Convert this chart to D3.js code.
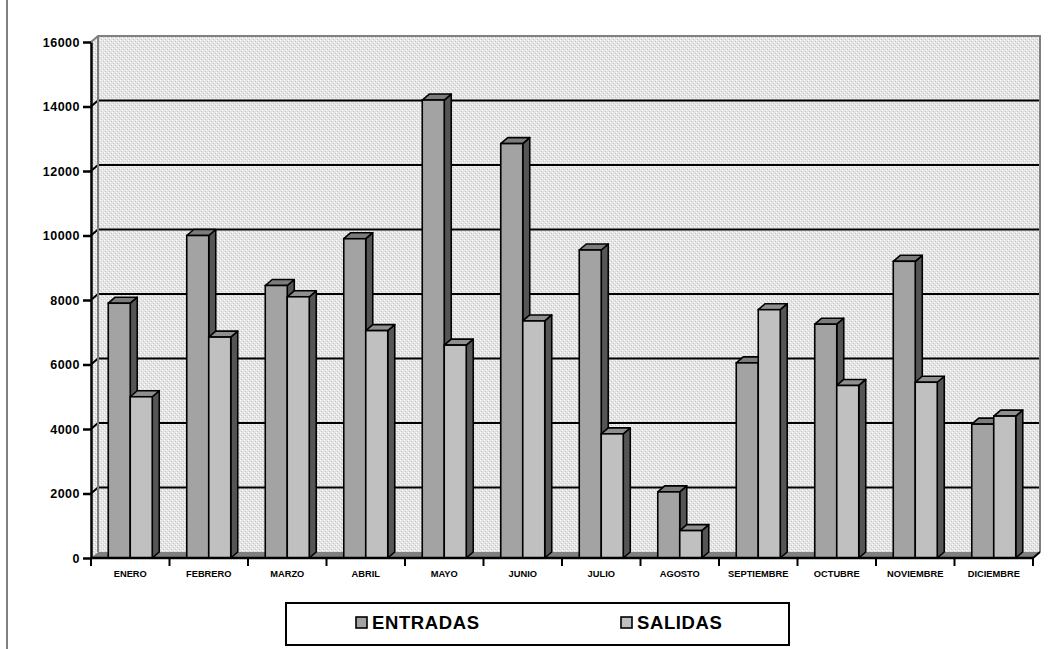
<!DOCTYPE html>
<html>
<head>
<meta charset="utf-8">
<script src="https://cdn.jsdelivr.net/npm/d3@7"></script>
<style>
  body { margin: 0; background: #fff; }
  svg { display: block; font-family: Arial, "Liberation Sans", sans-serif; }
</style>
</head>
<body>
<svg id="chart" width="1057" height="649"></svg>
<script>
const meses = ["ENERO", "FEBRERO", "MARZO", "ABRIL", "MAYO", "JUNIO", "JULIO",
  "AGOSTO", "SEPTIEMBRE", "OCTUBRE", "NOVIEMBRE", "DICIEMBRE"];
const entradas = [7900, 10000, 8450, 9900, 14200, 12850, 9550, 2050, 6050, 7250, 9200, 4150];
const salidas = [5000, 6850, 8100, 7050, 6600, 7350, 3850, 850, 7700, 5350, 5450, 4400];
const series = ["ENTRADAS", "SALIDAS"];
const yTicks = [0, 2000, 4000, 6000, 8000, 10000, 12000, 14000, 16000];

// colores: frente, techo, lado
const colores = {
  ENTRADAS: {front: "#a3a3a3", top: "#7c7c7c", side: "#555555"},
  SALIDAS: {front: "#c0c0c0", top: "#8f8f8f", side: "#555555"}
};

const pLeft = 91, pRight = 1033, pTop = 42, pBottom = 558;
const dx = 7, dy = -6; // profundidad 3D

const svg = d3.select("#chart");

// patrón de fondo de la pared
const defs = svg.append("defs");
const pat = defs.append("pattern").attr("id", "trama")
  .attr("width", 4).attr("height", 4).attr("patternUnits", "userSpaceOnUse");
pat.append("rect").attr("width", 4).attr("height", 4).attr("fill", "#e4e4e4");
pat.append("rect").attr("x", 0).attr("y", 0).attr("width", 1).attr("height", 1).attr("fill", "#ffffff");
pat.append("rect").attr("x", 2).attr("y", 2).attr("width", 1).attr("height", 1).attr("fill", "#ffffff");
pat.append("rect").attr("x", 1).attr("y", 3).attr("width", 1).attr("height", 1).attr("fill", "#c8c8c8");
pat.append("rect").attr("x", 3).attr("y", 1).attr("width", 1).attr("height", 1).attr("fill", "#c8c8c8");

const x = d3.scaleBand().domain(meses).range([pLeft, pRight]).paddingInner(0).paddingOuter(0);
const xs = d3.scaleBand().domain(series).range([17.25, x.bandwidth() - 17.25]);
const y = d3.scaleLinear().domain([0, 16000]).range([pBottom, pTop]);

// borde izquierdo del área
svg.append("line").attr("x1", 7).attr("x2", 7).attr("y1", 0).attr("y2", 649)
  .attr("stroke", "#808080").attr("stroke-width", 2);

// pared lateral
svg.append("path")
  .attr("d", `M${pLeft},${y(16000)}L${pLeft + dx},${y(16000) + dy}L${pLeft + dx},${pBottom + dy}L${pLeft},${pBottom}Z`)
  .attr("fill", "url(#trama)");

// pared del fondo
svg.append("rect")
  .attr("x", pLeft + dx).attr("y", y(16000) + dy)
  .attr("width", pRight - pLeft).attr("height", pBottom - pTop)
  .attr("fill", "url(#trama)");

// líneas de cuadrícula
const grid = svg.append("g");
yTicks.filter(v => v > 0 && v < 16000).forEach(v => {
  grid.append("path")
    .attr("d", `M${pLeft},${y(v)}L${pLeft + dx},${y(v) + dy}L${pRight + dx},${y(v) + dy}`)
    .attr("fill", "none").attr("stroke", "#000").attr("stroke-width", 2);
});

// borde gris de la pared
svg.append("path")
  .attr("d", `M${pLeft},${y(16000)}L${pLeft + dx},${y(16000) + dy}L${pRight + dx},${y(16000) + dy}L${pRight + dx},${pBottom + dy}`)
  .attr("fill", "none").attr("stroke", "#808080").attr("stroke-width", 2);
svg.append("line")
  .attr("x1", pLeft + dx).attr("x2", pLeft + dx).attr("y1", y(16000) + dy).attr("y2", pBottom + dy)
  .attr("stroke", "#808080").attr("stroke-width", 2);

// piso
svg.append("path")
  .attr("d", `M${pLeft},${pBottom}L${pLeft + dx},${pBottom + dy}L${pRight + dx},${pBottom + dy}L${pRight},${pBottom}Z`)
  .attr("fill", "#808080");
svg.append("path")
  .attr("d", `M${pRight},${pBottom}L${pRight + dx},${pBottom + dy}`)
  .attr("stroke", "#000").attr("stroke-width", 2);

// barras 3D
const datos = [];
meses.forEach((m, i) => {
  datos.push({mes: m, serie: "ENTRADAS", valor: entradas[i]});
  datos.push({mes: m, serie: "SALIDAS", valor: salidas[i]});
});

const barras = svg.append("g").selectAll("g").data(datos).join("g");
barras.each(function(d) {
  const g = d3.select(this);
  const x0 = x(d.mes) + xs(d.serie), w = xs.bandwidth();
  const y0 = y(d.valor), yb = y(0);
  const c = colores[d.serie];
  const sw = 1.6;
  g.append("path")
    .attr("d", `M${x0 + w},${y0}L${x0 + w + dx},${y0 + dy}L${x0 + w + dx},${yb + dy}L${x0 + w},${yb}Z`)
    .attr("fill", c.side).attr("stroke", "#000").attr("stroke-width", sw).attr("stroke-linejoin", "round");
  g.append("path")
    .attr("d", `M${x0},${y0}L${x0 + dx},${y0 + dy}L${x0 + w + dx},${y0 + dy}L${x0 + w},${y0}Z`)
    .attr("fill", c.top).attr("stroke", "#000").attr("stroke-width", sw).attr("stroke-linejoin", "round");
  g.append("rect")
    .attr("x", x0).attr("y", y0).attr("width", w).attr("height", yb - y0)
    .attr("fill", c.front).attr("stroke", "#000").attr("stroke-width", sw);
});

// eje Y
const yAxis = svg.append("g")
  .attr("transform", `translate(${pLeft},0)`)
  .call(d3.axisLeft(y).tickValues(yTicks).tickFormat(d3.format("d")).tickSize(8).tickPadding(3).tickSizeOuter(0));
yAxis.select(".domain").attr("stroke", "#000").attr("stroke-width", 2.5);
yAxis.selectAll(".tick line").attr("stroke", "#000").attr("stroke-width", 2.5);
yAxis.selectAll(".tick text")
  .attr("font-size", 12.5).attr("font-weight", "bold").attr("fill", "#000")
  .attr("letter-spacing", 0.5)
  .attr("font-family", "Arial, 'Liberation Sans', sans-serif");

// eje X
svg.append("line").attr("x1", pLeft).attr("x2", pRight).attr("y1", pBottom).attr("y2", pBottom)
  .attr("stroke", "#000").attr("stroke-width", 2.5);
const xAxis = svg.append("g")
  .attr("transform", `translate(0,${pBottom})`)
  .call(d3.axisBottom(x).tickSize(0).tickPadding(12));
xAxis.select(".domain").remove();
xAxis.selectAll(".tick text")
  .attr("font-size", 9.3).attr("font-weight", "bold").attr("fill", "#000")
  .attr("font-family", "Arial, 'Liberation Sans', sans-serif");
const divisiones = meses.map(m => x(m)).concat([pRight]);
svg.append("g").selectAll("line").data(divisiones).join("line")
  .attr("x1", d => d).attr("x2", d => d)
  .attr("y1", pBottom).attr("y2", pBottom + 8)
  .attr("stroke", "#000").attr("stroke-width", 2);

// leyenda
const leyenda = svg.append("g");
leyenda.append("rect").attr("x", 286).attr("y", 603).attr("width", 503).attr("height", 42)
  .attr("fill", "#fff").attr("stroke", "#000").attr("stroke-width", 2);
const legX = d3.scaleOrdinal().domain(series).range([356, 621]);
series.forEach(s => {
  leyenda.append("rect").attr("x", legX(s)).attr("y", 617).attr("width", 11).attr("height", 11)
    .attr("fill", colores[s].front).attr("stroke", "#000").attr("stroke-width", 1.6);
  leyenda.append("text").attr("x", legX(s) + 16).attr("y", 629)
    .attr("font-size", 18.5).attr("font-weight", "bold").attr("letter-spacing", 0.6)
    .text(s);
});
</script>
</body>
</html>
